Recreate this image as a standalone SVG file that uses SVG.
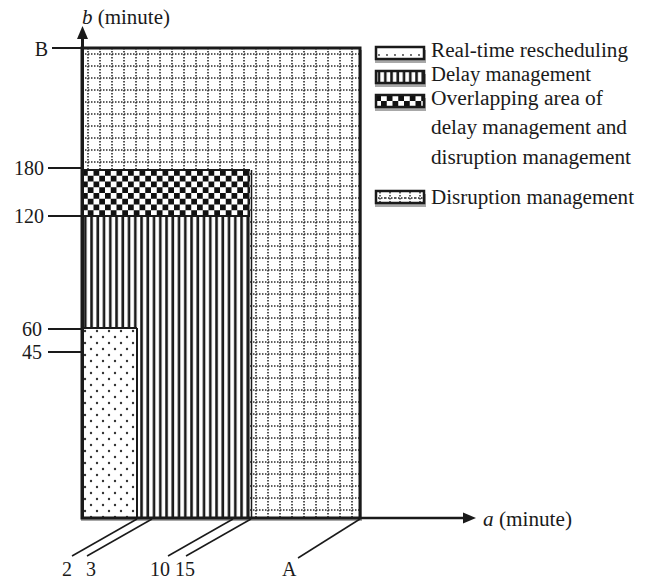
<svg xmlns="http://www.w3.org/2000/svg" width="649" height="579" viewBox="0 0 649 579">
<style>
text{font-family:"Liberation Serif","Times New Roman",serif;font-size:20px;fill:#1a1a1a}
.ln{stroke:#1a1a1a;stroke-width:2;fill:none}
.thin{stroke:#1a1a1a;stroke-width:1.5;fill:none}
.box{stroke:#1a1a1a;stroke-width:2.5}
.shadow{fill:#a8a8a8}
</style>
<defs>
<pattern id="grid" patternUnits="userSpaceOnUse" x="82" y="48" width="12" height="12">
<rect width="12" height="12" fill="#fff"/>
<line x1="6" y1="0" x2="6" y2="12" stroke="#2a2a2a" stroke-width="1.6" stroke-dasharray="1.5,1.5"/>
<line x1="0" y1="6" x2="12" y2="6" stroke="#2a2a2a" stroke-width="1.6" stroke-dasharray="1.5,1.5"/>
</pattern>
<pattern id="dots" patternUnits="userSpaceOnUse" x="82" y="328" width="12" height="12">
<rect width="12" height="12" fill="#fff"/>
<circle cx="3" cy="3" r="1.2" fill="#333"/>
<circle cx="9" cy="9" r="1.2" fill="#333"/>
</pattern>
<pattern id="stripes" patternUnits="userSpaceOnUse" x="82" y="0" width="6.25" height="10">
<rect width="6.25" height="10" fill="#fff"/>
<rect x="2" width="2.6" height="10" fill="#1a1a1a"/>
</pattern>
<pattern id="checker" patternUnits="userSpaceOnUse" x="82" y="170" width="11.5" height="11.5">
<rect width="11.5" height="11.5" fill="#fff"/>
<rect x="0" y="0" width="5.75" height="5.75" fill="#111"/>
<rect x="5.75" y="5.75" width="5.75" height="5.75" fill="#111"/>
</pattern>
<pattern id="ldots" patternUnits="userSpaceOnUse" x="375" y="48" width="8" height="13">
<rect width="8" height="13" fill="#fff"/>
<circle cx="4" cy="7" r="0.9" fill="#333"/>
</pattern>
<pattern id="lgrid" patternUnits="userSpaceOnUse" x="375" y="192" width="10" height="12">
<rect width="10" height="12" fill="#fff"/>
<line x1="5" y1="0" x2="5" y2="12" stroke="#222" stroke-width="1.4" stroke-dasharray="1.5,1.5"/>
<line x1="0" y1="6" x2="10" y2="6" stroke="#222" stroke-width="1.4" stroke-dasharray="1.5,1.5"/>
</pattern>
</defs>
<rect width="649" height="579" fill="#fff"/>

<g id="regions">
<rect class="shadow" x="81" y="50" width="281" height="471"/>
<rect id="disruption" x="82" y="48" width="278" height="470" fill="url(#grid)"/>
<rect id="overlap" x="82" y="170" width="168" height="46" fill="url(#checker)"/>
<rect id="delay" x="82" y="216" width="168" height="302" fill="url(#stripes)"/>
<rect id="realtime" x="82" y="328" width="55" height="190" fill="url(#dots)"/>
<line class="ln" x1="82" y1="170" x2="250" y2="170"/>
<line class="ln" x1="82" y1="216" x2="250" y2="216"/>
<line class="ln" x1="248.5" y1="170" x2="248.5" y2="518"/>
<line class="thin" x1="251.5" y1="170" x2="251.5" y2="518" stroke="#555"/>
<line class="ln" x1="82" y1="328" x2="137" y2="328"/>
<line class="ln" x1="137" y1="328" x2="137" y2="518" stroke-width="2.5"/>
<rect x="82" y="48" width="278" height="470" fill="none" stroke="#1a1a1a" stroke-width="3"/>
</g>

<g id="axes">
<line x1="82.5" y1="38" x2="82.5" y2="519" stroke="#1a1a1a" stroke-width="3"/>
<polygon points="82.5,26 77,39 88,39" fill="#1a1a1a"/>
<line x1="360" y1="518" x2="464" y2="518" stroke="#1a1a1a" stroke-width="2.5"/>
<polygon points="476,518 463,512.5 463,523.5" fill="#1a1a1a"/>
<text x="82" y="24" textLength="88" lengthAdjust="spacingAndGlyphs"><tspan font-style="italic">b</tspan> (minute)</text>
<text x="483" y="526" textLength="89" lengthAdjust="spacingAndGlyphs"><tspan font-style="italic">a</tspan> (minute)</text>
</g>

<g id="ticks">
<line class="ln" x1="52" y1="48" x2="82" y2="48"/>
<line class="ln" x1="48" y1="168" x2="82" y2="168"/>
<line class="ln" x1="48" y1="216" x2="82" y2="216"/>
<line class="ln" x1="48" y1="329" x2="82" y2="329"/>
<line class="ln" x1="48" y1="352" x2="82" y2="352"/>
<text x="48" y="56" text-anchor="end">B</text>
<text x="44" y="175" text-anchor="end">180</text>
<text x="44" y="223" text-anchor="end">120</text>
<text x="42" y="336" text-anchor="end">60</text>
<text x="42" y="359" text-anchor="end">45</text>
</g>

<g id="connectors">
<line class="thin" x1="137" y1="519" x2="72" y2="556"/>
<line class="thin" x1="152" y1="519" x2="87" y2="556"/>
<line class="thin" x1="233" y1="519" x2="168" y2="556"/>
<line class="thin" x1="251" y1="519" x2="186" y2="556"/>
<line class="thin" x1="360" y1="519" x2="298" y2="558"/>
</g>

<g id="bottom-labels">
<text x="62" y="576">2</text>
<text x="86" y="576">3</text>
<text x="150" y="576">10</text>
<text x="175" y="576">15</text>
<text x="282" y="576">A</text>
</g>

<g id="legend">
<g id="legend-realtime">
<rect class="shadow" x="375" y="50" width="51" height="13"/>
<rect class="box" x="376" y="47" width="48" height="12" fill="url(#ldots)"/>
<text x="431" y="57" textLength="197" lengthAdjust="spacingAndGlyphs">Real-time rescheduling</text>
</g>
<g id="legend-delay">
<rect class="shadow" x="375" y="74" width="51" height="13"/>
<rect class="box" x="376" y="71" width="48" height="12" fill="url(#stripes)"/>
<text x="431" y="81" textLength="160" lengthAdjust="spacingAndGlyphs">Delay management</text>
</g>
<g id="legend-overlap">
<rect class="shadow" x="375" y="98" width="51" height="13"/>
<rect class="box" x="376" y="95" width="48" height="12" fill="url(#checker)"/>
<text x="431" y="105" textLength="172" lengthAdjust="spacingAndGlyphs">Overlapping area of</text>
<text x="431" y="134" textLength="196" lengthAdjust="spacingAndGlyphs">delay management and</text>
<text x="431" y="164" textLength="200" lengthAdjust="spacingAndGlyphs">disruption management</text>
</g>
<g id="legend-disruption">
<rect class="shadow" x="375" y="194" width="51" height="13"/>
<rect class="box" x="376" y="191" width="48" height="12" fill="url(#lgrid)"/>
<text x="431" y="204" textLength="203" lengthAdjust="spacingAndGlyphs">Disruption management</text>
</g>
</g>
</svg>
